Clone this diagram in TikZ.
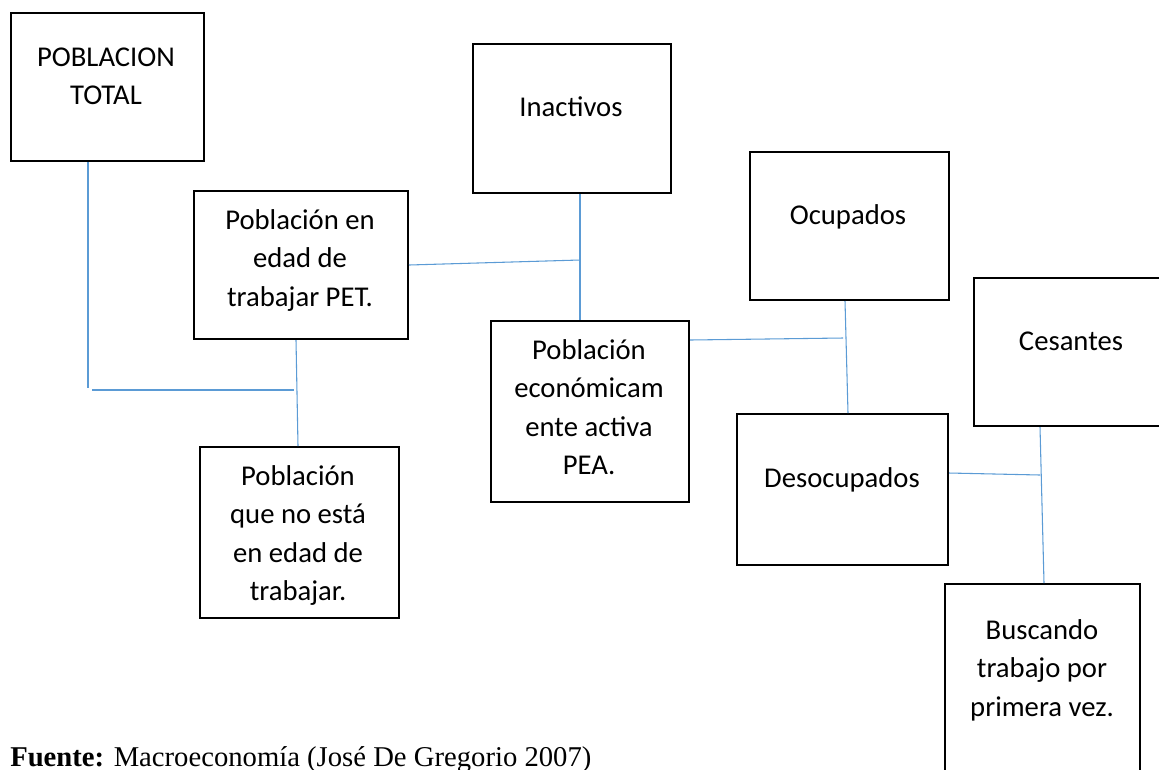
\documentclass[tikz,border=0pt]{standalone}
\usepackage{fontspec}
\setmainfont{Carlito}
\newfontfamily\serifft{Liberation Serif}
\definecolor{linkblue}{RGB}{91,155,213}
\begin{document}
\begin{tikzpicture}[x=0.75pt,y=-0.75pt,
  box/.style={draw=black, line width=1.5pt, inner sep=0pt, anchor=north west},
  lbl/.style={anchor=base, inner sep=0pt, font=\fontsize{21.5}{28.9}\selectfont},
  conn/.style={draw=linkblue, line width=0.8pt}]
\clip (0,0) rectangle (1159,769);
% boxes
\node[box, minimum width=144.75pt, minimum height=111pt] (total) at (10,12) {};
\node[lbl] (totalT) at (106,66) {\begin{tabular}[t]{@{}c@{}}POBLACION\\TOTAL\end{tabular}};
\node[box, minimum width=160.5pt, minimum height=111pt] (pet) at (193,190) {};
\node[lbl] (petT) at (300,229) {\begin{tabular}[t]{@{}c@{}}Población en\\edad de\\trabajar PET.\end{tabular}};
\node[box, minimum width=149.25pt, minimum height=128.25pt] (noedad) at (199,446) {};
\node[lbl] (noedadT) at (298,485) {\begin{tabular}[t]{@{}c@{}}Población\\que no está\\en edad de\\trabajar.\end{tabular}};
\node[box, minimum width=148.5pt, minimum height=111.75pt] (inact) at (472,43) {};
\node[lbl] (inactT) at (571,116) {Inactivos};
\node[box, minimum width=148.5pt, minimum height=135.75pt] (pea) at (490,320) {};
\node[lbl] (peaT) at (589,359) {\begin{tabular}[t]{@{}c@{}}Población\\económicam\\ente activa\\PEA.\end{tabular}};
\node[box, minimum width=149.25pt, minimum height=111pt] (ocup) at (749,151) {};
\node[lbl] (ocupT) at (848,224) {Ocupados};
\node[box, minimum width=158.25pt, minimum height=113.25pt] (desoc) at (736,413) {};
\node[lbl] (desocT) at (842,487) {Desocupados};
\node[box, minimum width=148.5pt, minimum height=111pt] (ces) at (973,277) {};
\node[lbl] (cesT) at (1071,350) {Cesantes};
\node[box, minimum width=146.25pt, minimum height=155.25pt] (busc) at (944,583) {};
\node[lbl] (buscT) at (1042,639) {\begin{tabular}[t]{@{}c@{}}Buscando\\trabajo por\\primera vez.\end{tabular}};
% connector points
\coordinate (t1) at (88,388);
\coordinate (h1a) at (92,390);
\coordinate (h1b) at (294,390);
\coordinate (p1) at (296,338);
\coordinate (p2) at (298,446);
\coordinate (k1) at (580,260);
\coordinate (m0) at (688,340);
\coordinate (m1) at (843,338);
\coordinate (m2) at (845,297);
\coordinate (m3) at (848,413);
\coordinate (n0) at (947,473);
\coordinate (n1) at (1040,475);
\coordinate (n2) at (1040,425);
\coordinate (n3) at (1044,583);
% connectors
\draw[conn] (total.south -| t1) -- (t1);
\draw[conn] (h1a) -- (h1b);
\draw[conn] (pet.south -| p1) -- (noedad.north -| p2);
\draw[conn] (pet.east) -- (k1);
\draw[conn] (inact.south -| k1) -- (pea.north -| k1);
\draw[conn] (pea.east |- m0) -- (m1);
\draw[conn] (ocup.south -| m2) -- (desoc.north -| m3);
\draw[conn] (desoc.east |- n0) -- (n1);
\draw[conn] (ces.south -| n2) -- (busc.north -| n3);
% footer
\node[anchor=base west, inner sep=0pt, font=\serifft\fontsize{21.5}{26}\selectfont] (fuente) at (10,766) {\textbf{Fuente:} Macroeconomía (José De Gregorio 2007)};
\end{tikzpicture}
\end{document}
